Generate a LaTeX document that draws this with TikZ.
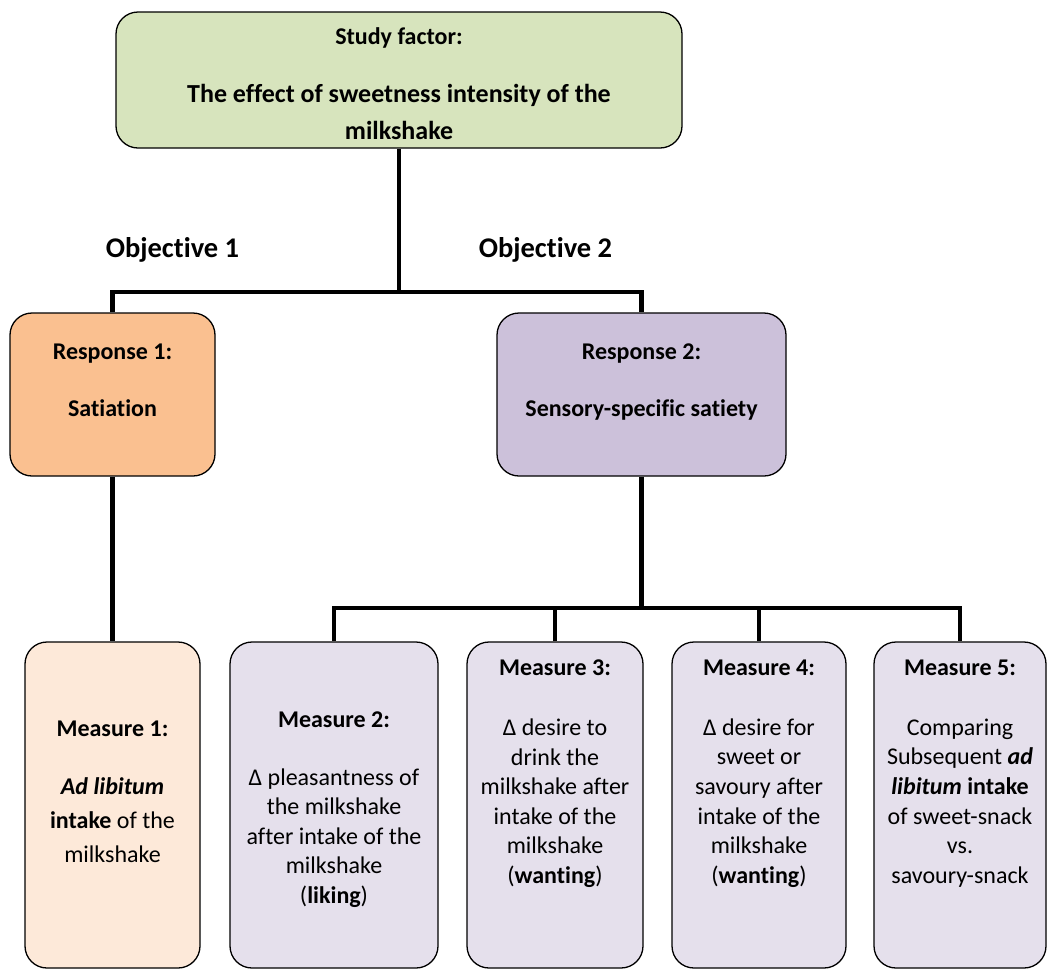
\documentclass[tikz,border=0pt]{standalone}
\usepackage{fontspec}
\setmainfont{Carlito}[Ligatures=NoCommon]
\usetikzlibrary{calc, positioning}

\definecolor{factorGreen}{HTML}{D7E4BD}
\definecolor{satiationOrange}{HTML}{FAC090}
\definecolor{ssSatietyLilac}{HTML}{CCC1DA}
\definecolor{intakePeach}{HTML}{FDE9D9}
\definecolor{measureLilac}{HTML}{E5E0EC}

\tikzstyle{stdText} = [align=center, inner sep=0pt, anchor=north, font=\fontsize{24}{29.6}\selectfont]
\tikzstyle{boldText} = [stdText, font=\fontsize{24}{29}\selectfont\bfseries]
\tikzstyle{objText} = [inner sep=0pt, anchor=base, font=\fontsize{28.5}{34}\selectfont\bfseries]
\tikzstyle{box} = [draw, line width=1.3pt, rectangle, rounded corners=22pt, inner sep=0pt]
\tikzstyle{measBox} = [box, fill=measureLilac, minimum height=326pt]
\tikzstyle{conn} = [line width=4.5pt, line join=miter]

\begin{document}
\begin{tikzpicture}[x=1pt, y=-1pt]
    \useasboundingbox (0,0) rectangle (1048,970);

    % the boxes
    \node (factor) [box, fill=factorGreen, minimum width=566pt, minimum height=136pt] at (399,80) {};
    \node (resp1) [box, fill=satiationOrange, minimum width=205pt, minimum height=163pt] at (112.5,394.5) {};
    \node (resp2) [box, fill=ssSatietyLilac, minimum width=289pt, minimum height=163pt] at (641.5,394.5) {};
    \node (meas1) [measBox, fill=intakePeach, minimum width=175pt] at (112.5,805) {};
    \node (meas2) [measBox, minimum width=208pt] at (334,805) {};
    \node (meas3) [measBox, minimum width=176pt] at (555,805) {};
    \node (meas4) [measBox, minimum width=174pt] at (759,805) {};
    \node (meas5) [measBox, minimum width=172pt] at (960,805) {};

    % the texts
    \node (factorText) [stdText, font=\fontsize{26}{37}\selectfont\bfseries] at (factor.north |- 0,27) {{\fontsize{24}{29}\selectfont Study factor:}\\[21pt] The effect of sweetness intensity of the\\ milkshake};
    \node (obj1) [objText] at (172.5,257) {Objective 1};
    \node (obj2) [objText] at (545.5,257) {Objective 2};
    \node (resp1Text) [boldText] at (resp1.north |- 0,343.5) {Response 1:\\[28pt] Satiation};
    \node (resp2Text) [boldText] at (resp2.north |- 0,343.5) {Response 2:\\[28pt] Sensory-specific satiety};
    \node (meas1Text) [stdText, font=\fontsize{24}{34}\selectfont] at (meas1.north |- 0,720.5) {\textbf{Measure 1:}\\[24pt] \textbf{\textit{Ad libitum}}\\ \textbf{intake} of the\\ milkshake};
    \node (meas2Text) [stdText, font=\fontsize{24}{29.5}\selectfont] at (meas2.north |- 0,711.5) {\textbf{Measure 2:}\\[28.5pt] Δ pleasantness of\\ the milkshake\\ after intake of the\\ milkshake\\ (\textbf{liking})};
    \node (meas3Text) [stdText] at (meas3.north |- 0,659.5) {\textbf{Measure 3:}\\[30.4pt] Δ desire to\\ drink the\\ milkshake after\\ intake of the\\ milkshake\\ (\textbf{wanting})};
    \node (meas4Text) [stdText] at (meas4.north |- 0,659.5) {\textbf{Measure 4:}\\[30.4pt] Δ desire for\\ sweet or\\ savoury after\\ intake of the\\ milkshake\\ (\textbf{wanting})};
    \node (meas5Text) [stdText] at (meas5.north |- 0,659.5) {\textbf{Measure 5:}\\[30.4pt] Comparing\\ Subsequent \textbf{\textit{ad}}\\ \textbf{\textit{libitum} intake}\\ of sweet-snack\\ vs.\\ savoury-snack};

    % the connectors
    \coordinate (hub1) at (399,292);
    \coordinate (hub2) at (641.5,608);
    \draw [conn] (factor) -- (hub1);
    \draw [conn] (resp1) |- (hub1) -| (resp2);
    \draw [conn] (resp1) -- (meas1);
    \draw [conn] (resp2) -- (hub2);
    \draw [conn] (meas2) |- (hub2) -| (meas5);
    \foreach \x in {3,4}{
        \draw [conn] (meas\x) -- (meas\x |- hub2);
    }
\end{tikzpicture}
\end{document}
